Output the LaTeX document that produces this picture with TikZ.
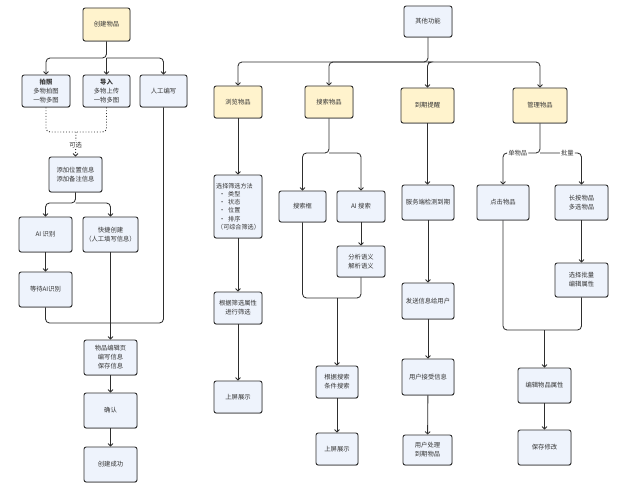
\documentclass[tikz,border=0pt]{standalone}
\usepackage{fontspec}
\setmainfont{Noto Sans CJK SC}
\usetikzlibrary{arrows.meta,shadows}
\definecolor{boxblue}{HTML}{EEF3FC}
\definecolor{boxyellow}{HTML}{FFF3CD}
\definecolor{edge}{HTML}{2E2E2E}
\definecolor{txt}{HTML}{333333}
\tikzset{
  box/.style={draw=edge, fill=boxblue, rounded corners=2.2pt, line width=0.9pt,
    align=center, inner sep=0pt, text=txt,
    font=\fontsize{6.3}{9}\selectfont,
    drop shadow={shadow xshift=0.3pt, shadow yshift=-0.7pt, opacity=0.35, fill=black}},
  ybox/.style={box, fill=boxyellow},
  sz/.style 2 args={minimum width=#1pt, minimum height=#2pt},
  conn/.style={draw=edge, line width=0.85pt, rounded corners=4pt},
  arr/.style={conn, -{Straight Barb[length=2.4pt,width=5pt]}},
  dotline/.style={conn, dotted, line width=0.9pt},
  lab/.style={fill=white, inner sep=1.2pt, text=txt, font=\fontsize{6.3}{8}\selectfont}
}
\begin{document}
\begin{tikzpicture}[x=1pt,y=-1pt]
\useasboundingbox[fill=white] (0,0) rectangle (629,500);

% ---------------- left: create item ----------------
\node[ybox, sz={47}{33}] (create) at (106.5,24.5) {创建物品};
\node[box, sz={48}{32}] (photo) at (46,91) {\textbf{拍照}\\多物拍图\\一物多图};
\node[box, sz={47}{32}] (import) at (106.5,91) {\textbf{导入}\\多物上传\\一物多图};
\node[box, sz={47}{32}] (manual) at (163.5,91) {人工编写};
\node[box, sz={53}{35}] (addloc) at (75.5,174.5) {添加位置信息\\添加备注信息};
\node[box, sz={53}{35}] (airec) at (45.5,234.5) {AI 识别};
\node[box, sz={55}{35}] (quick) at (110.5,234.5) {快捷创建\\（人工填写信息）};
\node[box, sz={53}{35}] (wait) at (45.5,289.5) {等待AI识别};
\node[box, sz={53}{35}] (edit) at (110.5,357.5) {物品编辑页\\编写信息\\保存信息};
\node[box, sz={53}{35}] (confirm) at (110.5,410.5) {确认};
\node[box, sz={53}{35}] (done) at (110.5,464.5) {创建成功};

\coordinate (cb) at (106.5,58);
\draw[arr] (create.south) -- (cb) -| (photo.north);
\draw[arr] (cb) -- (import.north);
\draw[arr] (cb) -| (manual.north);

\coordinate (dm) at (76,132);
\draw[dotline] (photo.south) |- (dm);
\draw[dotline] (import.south) |- (dm);
\draw[dotline, -{Straight Barb[length=2.4pt,width=5pt]}] (dm) -- node[lab, pos=0.52] {可选} (addloc.north);

\coordinate (ab) at (75.5,203);
\draw[arr] (addloc.south) -- (ab) -| (airec.north);
\draw[arr] (ab) -| (quick.north);
\draw[arr] (airec) -- (wait);

\coordinate (lm) at (110.5,323);
\draw[conn] (wait.south) |- (lm);
\draw[conn] (manual.south) |- (lm);
\draw[conn] (quick.south) -- (lm);
\draw[arr] (lm) -- (edit.north);
\draw[arr] (edit) -- (confirm);
\draw[arr] (confirm) -- (done);

% ---------------- right: other functions ----------------
\node[box, sz={48}{31}] (other) at (428,21.5) {其他功能};
\node[ybox, sz={48}{32}] (browse) at (238,102) {浏览物品};
\node[ybox, sz={48}{32}] (search) at (329,102) {搜索物品};
\node[ybox, sz={53}{35}] (expire) at (427.5,105.5) {到期提醒};
\node[ybox, sz={54}{35}] (manage) at (540,105.5) {管理物品};

\coordinate (ob) at (428,62);
\draw[arr] (other.south) -- (ob) -| (browse.north);
\draw[arr] (ob) -| (search.north);
\draw[arr] (ob) -| (expire.north);
\draw[arr] (ob) -| (manage.north);

% browse column
\node[box, sz={48}{63}, align=left, font=\fontsize{6.1}{8.3}\selectfont] (filter) at (238,206.5)
  {选择筛选方法\\\hspace{3pt}•\hspace{3pt}类型\\\hspace{3pt}•\hspace{3pt}状态\\\hspace{3pt}•\hspace{3pt}位置\\\hspace{3pt}•\hspace{3pt}排序\\\hspace{1pt}（可综合筛选）};
\node[box, sz={48}{32}] (byattr) at (238,308) {根据筛选属性\\进行筛选};
\node[box, sz={48}{32}] (show1) at (238,397) {上屏展示};
\draw[arr] (browse) -- (filter);
\draw[arr] (filter) -- (byattr);
\draw[arr] (byattr) -- (show1);

% search column
\node[box, sz={47}{31}] (sbox) at (302.5,206.5) {搜索框};
\node[box, sz={48}{31}] (aisearch) at (361,206.5) {AI 搜索};
\node[box, sz={48}{31}] (semantic) at (361,261.5) {分析语义\\解析语义};
\node[box, sz={42}{32}] (bycond) at (337,382) {根据搜索\\条件搜索};
\node[box, sz={42}{32}] (show2) at (337,449) {上屏展示};
\coordinate (sb) at (329,153);
\draw[arr] (search.south) -- (sb) -| (sbox.north);
\draw[arr] (sb) -| (aisearch.north);
\draw[arr] (aisearch) -- (semantic);
\coordinate (sm) at (337,298);
\draw[conn] (sbox.south) |- (sm);
\draw[conn] (semantic.south) |- (sm);
\draw[arr] (sm) -- (bycond.north);
\draw[arr] (bycond) -- (show2);

% expire column
\node[box, sz={52}{35}] (detect) at (428,202.5) {服务端检测到期};
\node[box, sz={52}{36}] (send) at (428,301) {发送信息给用户};
\node[box, sz={52}{36}] (receive) at (428,377) {用户接受信息};
\node[box, sz={49}{30}] (handle) at (427.5,450) {用户处理\\到期物品};
\draw[arr] (expire.south) -- (detect.north -| expire.south);
\draw[arr] (detect) -- (send);
\draw[arr] (send) -- (receive);
\draw[arr] (receive) -- (handle);

% manage column
\node[box, sz={52}{35}] (click) at (503,202.5) {点击物品};
\node[box, sz={53}{35}] (longpress) at (581.5,202.5) {长按物品\\多选物品};
\node[box, sz={53}{34}] (batch) at (581.5,280) {选择批量\\编辑属性};
\node[box, sz={53}{35}] (editattr) at (544.5,385.5) {编辑物品属性};
\node[box, sz={53}{35}] (save) at (544.5,447.5) {保存修改};
\coordinate (mb) at (540,153);
\draw[arr] (manage.south) -- (mb) -| node[lab, pos=0.3] {单物品} (click.north);
\draw[arr] (mb) -| node[lab, pos=0.33] {批量} (longpress.north);
\draw[arr] (longpress) -- (batch);
\coordinate (mm) at (544.5,330);
\draw[conn] (click.south) |- (mm);
\draw[conn] (batch.south) |- (mm);
\draw[arr] (mm) -- (editattr.north);
\draw[arr] (editattr) -- (save);
\end{tikzpicture}
\end{document}
